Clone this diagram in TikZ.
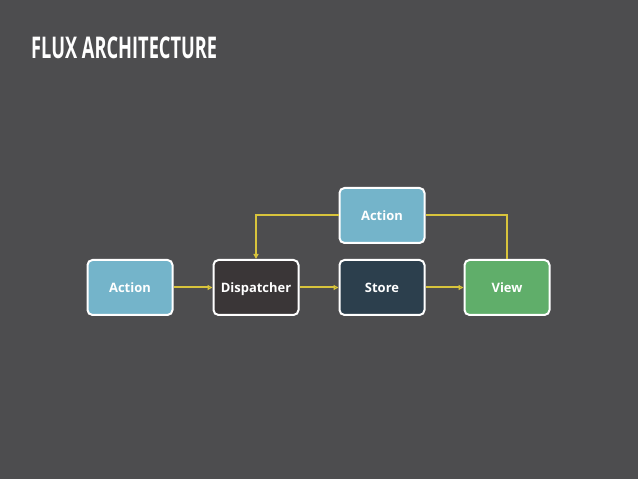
\documentclass[tikz,border=0pt]{standalone}
\usepackage{fontspec}
\setmainfont{Open Sans}
\newfontfamily\titlefont[FakeStretch=0.61]{Open Sans}
\usetikzlibrary{arrows.meta}
\definecolor{slidebg}{HTML}{4D4D4F}
\definecolor{actionblue}{HTML}{74B4CA}
\definecolor{dispdark}{HTML}{3A3637}
\definecolor{storenavy}{HTML}{2C3F4D}
\definecolor{viewgreen}{HTML}{60AE6A}
\definecolor{flowyellow}{HTML}{D8C43C}
\begin{document}
\begin{tikzpicture}[x=1bp, y=1bp,
  box/.style={shape=rectangle, rounded corners=5bp, draw=white, line width=2bp,
    minimum width=85bp, minimum height=55bp, text=white, text height=12.5bp, text depth=3bp,
    font=\fontsize{13}{15}\selectfont\bfseries},
  flow/.style={draw=flowyellow, line width=2bp},
  tip/.style={-{Triangle[length=5bp,width=5bp]}}]
\fill[slidebg] (0,0) rectangle (638,479);
\useasboundingbox (0,0) rectangle (638,479);
\node[anchor=west, text=white, inner sep=0pt,
  font=\titlefont\fontsize{30}{34}\selectfont\bfseries] (title) at (31,431) {FLUX ARCHITECTURE};
\node[box, fill=actionblue] (action) at (130,191.5) {Action};
\node[box, fill=dispdark] (dispatcher) at (256,191.5) {Dispatcher};
\node[box, fill=storenavy] (store) at (382,191.5) {Store};
\node[box, fill=viewgreen] (view) at (507,191.5) {View};
\node[box, fill=actionblue] (newaction) at (382,263.5) {Action};
\path [tip, flow] (action) edge (dispatcher);
\path [tip, flow] (dispatcher) edge (store);
\path [tip, flow] (store) edge (view);
\draw [-, flow] (view.north) |- (newaction.east);
\draw [tip, flow] (newaction.west) -| (dispatcher.north);
\end{tikzpicture}
\end{document}
